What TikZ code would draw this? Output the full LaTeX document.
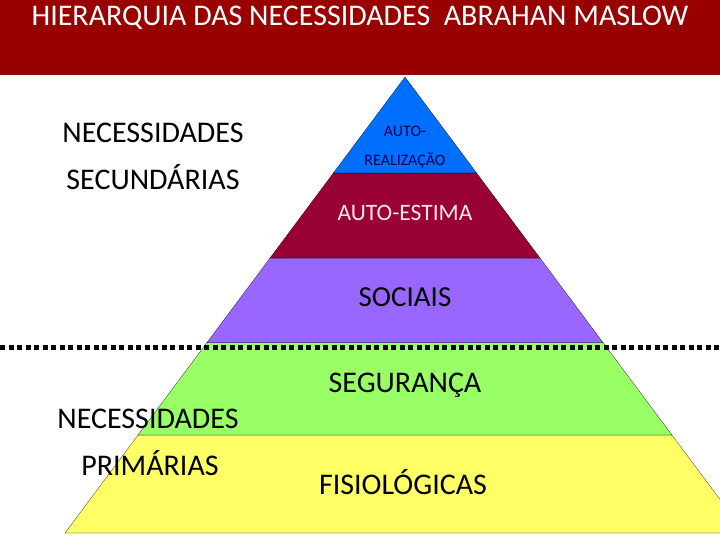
\documentclass[tikz,border=0pt]{standalone}
\usepackage{fontspec}
\setmainfont{Carlito}
\usetikzlibrary{calc}
\definecolor{banner}{RGB}{153,0,0}
\definecolor{topblue}{RGB}{0,110,255}
\definecolor{esteem}{RGB}{153,0,51}
\definecolor{social}{RGB}{153,102,255}
\definecolor{safety}{RGB}{153,255,102}
\definecolor{physio}{RGB}{255,255,102}
\begin{document}
\begin{tikzpicture}[x=1pt,y=-1pt,
	layer/.style	=	{fill=#1,draw=black,very thin},
	lbl/.style		=	{font=\fontsize{#1}{#1}\selectfont,inner sep=0pt},
	side/.style		=	{lbl=30,align=center}]

	\useasboundingbox (0,0) rectangle (720,540);
	\clip (0,0) rectangle (720,540);
	\fill[white] (0,0) rectangle (720,540);

	% title bar
	\fill[banner] (0,0) rectangle (720,75);
	\node[lbl=30,white] (title) at (360,18) {HIERARQUIA DAS NECESSIDADES\ \ ABRAHAN MASLOW};

	\coordinate (apex) at (405,77);
	\coordinate (base left) at (65,533);
	\coordinate (base right) at (745,533);

	% pyramid layers
	\foreach \ta/\tb/\col in {0.785/1/physio, 0.583/0.785/safety, 0.397/0.583/social, 0.2105/0.397/esteem}
		\draw[layer=\col] ($(apex)!\ta!(base left)$) -- ($(apex)!\tb!(base left)$)
			-- ($(apex)!\tb!(base right)$) -- ($(apex)!\ta!(base right)$) -- cycle;
	\draw[layer=topblue] (apex) -- ($(apex)!0.2105!(base left)$) -- ($(apex)!0.2105!(base right)$) -- cycle;

	% dividing line
	\coordinate (div left) at (0,347);
	\coordinate (div right) at (720,347);
	\draw[line width=5pt,dash pattern=on 5pt off 3.5pt] (div left) -- (div right);

	\node[lbl=16,text=blue!30!black] (auto) at (405,131) {AUTO-};
	\node[lbl=16,text=blue!30!black] (real) at (405,160) {REALIZAÇÃO};
	\node[lbl=23.5,text=red!8!white] (estima) at (405,213) {AUTO-ESTIMA};
	\node[lbl=29] (sociais) at (405,297) {SOCIAIS};
	\node[lbl=30] (seg) at (405,385) {SEGURANÇA};
	\node[lbl=30] (fisio) at (403,482) {FISIOLÓGICAS};

	\node[side] (sec1) at (153,133) {NECESSIDADES};
	\node[side] (sec2) at (153,177) {SECUNDÁRIAS};
	\node[side] (pri1) at (148,419) {NECESSIDADES};
	\node[side] (pri2) at (150,463) {PRIMÁRIAS};
\end{tikzpicture}
\end{document}
